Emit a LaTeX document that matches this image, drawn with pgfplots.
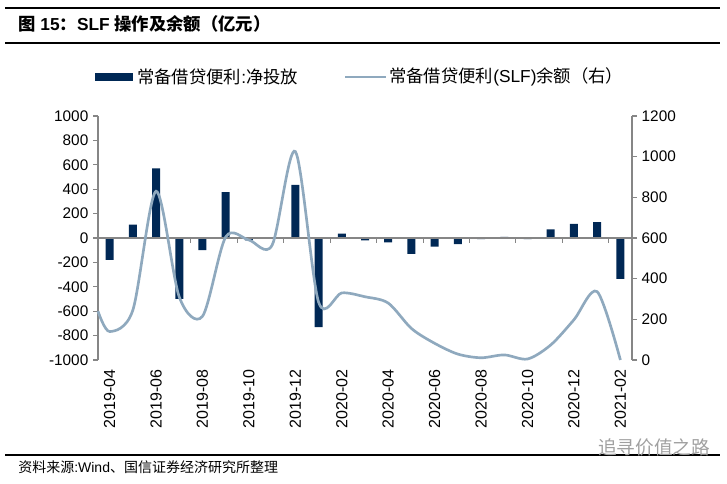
\documentclass[border=0pt]{standalone}
\usepackage{fontspec}
\usepackage{pgfplots}
\pgfplotsset{compat=1.18}
\setmainfont{Liberation Sans}
\newfontfamily\cjk{Noto Sans CJK SC}

\definecolor{barnavy}{RGB}{0,40,85}
\definecolor{slfline}{RGB}{143,169,190}
\definecolor{axgray}{RGB}{134,134,134}
\definecolor{wmgray}{RGB}{160,160,160}

\begin{document}
\begin{tikzpicture}
\useasboundingbox (0,0) rectangle (545.25pt,363pt);

% left axis: net injection (bars)
\begin{axis}[
  scale only axis, width=400.5pt, height=183pt,
  at={(73.5pt,93pt)}, anchor=south west,
  xmin=-0.5, xmax=22.5, ymin=-1000, ymax=1000,
  ytick={-1000,-800,...,1000},
  xtick={0,2,...,22},
  xticklabels={2019-04,2019-06,2019-08,2019-10,2019-12,2020-02,2020-04,2020-06,2020-08,2020-10,2020-12,2021-02},
  axis y line*=left, axis x line*=bottom,
  x axis line style={draw=none},
  y axis line style={draw=axgray, line width=0.8pt},
  xtick style={draw=none},
  ytick style={draw=axgray, line width=0.8pt},
  tick align=outside, major tick length=3.75pt,
  xticklabel style={rotate=90, anchor=east, font=\fontsize{12}{14}\selectfont},
  yticklabel style={font=\fontsize{11.5}{14}\selectfont},
  /pgf/number format/.cd, 1000 sep={}, assume math mode=true,
]
\addplot[ybar, bar width=6pt, fill=barnavy, draw=none] coordinates {
  (0,-180) (1,110) (2,570) (3,-500) (4,-100) (5,375) (6,-20) (7,-5)
  (8,435) (9,-730) (10,35) (11,-20) (12,-35) (13,-130) (14,-70) (15,-50)
  (16,-10) (17,10) (18,-10) (19,70) (20,115) (21,130) (22,-335)
};
\draw[axgray, line width=0.8pt] (axis cs:-0.5,0) -- (axis cs:22.5,0);
\pgfplotsinvokeforeach{1.5,3.5,5.5,7.5,9.5,11.5,13.5,15.5,17.5,19.5,21.5}{
  \draw[axgray, line width=0.8pt] (axis cs:#1,0) -- ([yshift=-3.75pt]axis cs:#1,0);
}
\end{axis}

% right axis: SLF balance (line)
\begin{axis}[
  scale only axis, width=400.5pt, height=183pt,
  at={(73.5pt,93pt)}, anchor=south west,
  xmin=-0.5, xmax=22.5, ymin=0, ymax=1200,
  ytick={0,200,...,1200},
  axis y line*=right, axis x line=none,
  y axis line style={draw=axgray, line width=0.8pt},
  ytick style={draw=axgray, line width=0.8pt},
  tick align=outside, major tick length=3.75pt,
  yticklabel style={font=\fontsize{11.5}{14}\selectfont},
  clip=false,
  /pgf/number format/.cd, 1000 sep={}, assume math mode=true,
]
\addplot[smooth, slfline, line width=2pt] coordinates {
  (-0.5,240) (0,140) (1,245) (2,830) (3,310) (4,215) (5,605) (6,590)
  (7,565) (8,1025) (9,285) (10,330) (11,311) (12,280) (13,155) (14,82)
  (15,29) (16,11) (17,25) (18,5) (19,74) (20,198) (21,336) (22,0)
};
\end{axis}

% frame, title, legend, source (pixel coordinates from top left)
\begin{scope}[x=0.75pt, y=-0.75pt, shift={(0,363pt)}]
  \draw[black, line width=1.1pt] (5,8) -- (720,8);
  \draw[black, line width=0.9pt] (5,43) -- (720,43);
  \node[anchor=west, inner sep=0pt, font=\fontsize{13}{15}\selectfont\bfseries] at (18,24)
    {{\cjk\bfseries 图} 15{\cjk\bfseries ：}SLF {\cjk\bfseries 操作及余额（亿元）}};
  \fill[barnavy] (95,73.5) rectangle (133,81);
  \node[anchor=west, inner sep=0pt, font=\fontsize{13}{15}\selectfont] at (137,77)
    {{\cjk 常备借贷便利}:{\cjk 净投放}};
  \draw[slfline, line width=2pt] (345,77) -- (386,77);
  \node[anchor=west, inner sep=0pt, font=\fontsize{13}{15}\selectfont] at (389,77)
    {{\cjk 常备借贷便利}(SLF){\cjk 余额（右）}};
  \draw[black, line width=0.9pt] (5,455) -- (720,455);
  \node[anchor=west, inner sep=0pt, font=\fontsize{10.5}{12}\selectfont] at (18,467)
    {{\cjk 资料来源}:Wind{\cjk 、国信证券经济研究所整理}};
  \node[anchor=west, inner sep=0pt, text=wmgray, font=\fontsize{14}{16}\selectfont] at (598,447)
    {\cjk 追寻价值之路};
\end{scope}
\end{tikzpicture}
\end{document}
